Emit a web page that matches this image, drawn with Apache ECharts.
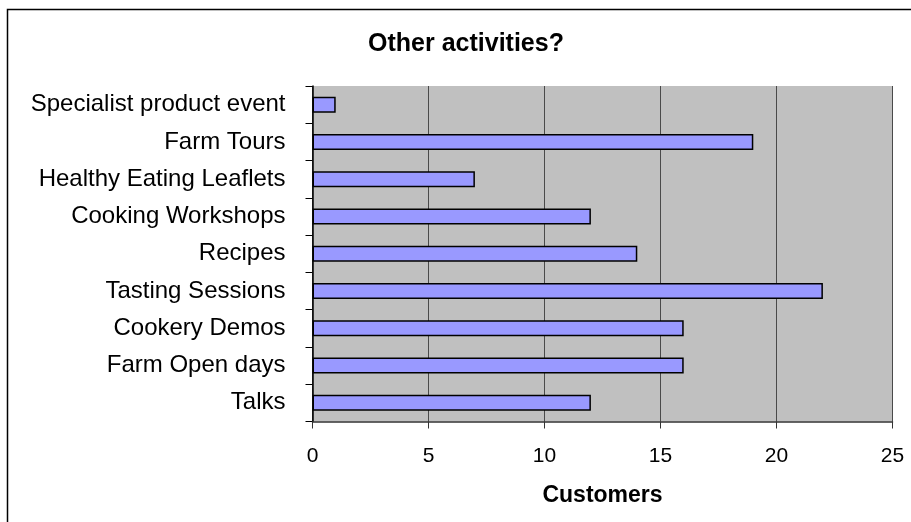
<!DOCTYPE html>
<html>
<head>
<meta charset="utf-8">
<script src="https://cdn.jsdelivr.net/npm/echarts@6/dist/echarts.min.js"></script>
<style>
  html, body { margin: 0; padding: 0; background: #ffffff; }
  #chart { width: 911px; height: 522px; }
</style>
</head>
<body>
<div id="chart"></div>
<script>
// Activities, listed top to bottom
var activities = [
  'Specialist product event',
  'Farm Tours',
  'Healthy Eating Leaflets',
  'Cooking Workshops',
  'Recipes',
  'Tasting Sessions',
  'Cookery Demos',
  'Farm Open days',
  'Talks'
];
var customers = [1, 19, 7, 12, 14, 22, 16, 16, 12];
var xTicks = [0, 5, 10, 15, 20, 25];

var chart = echarts.init(document.getElementById('chart'), null, { renderer: 'canvas' });
var font = 'Liberation Sans, Arial, sans-serif';

chart.setOption({
  animation: false,
  backgroundColor: '#ffffff',
  title: {
    text: 'Other activities?',
    left: 461,
    top: 27,
    textAlign: 'center',
    textStyle: { fontFamily: font, fontSize: 25, fontWeight: 'bold', color: '#000' }
  },
  graphic: [{
    type: 'rect',
    shape: { x: 7.5, y: 9.5, width: 920, height: 530 },
    style: { fill: null, stroke: '#000', lineWidth: 1.5 },
    silent: true,
    z: -1
  }],
  grid: {
    left: 312.5,
    top: 86,
    right: 18.5,
    bottom: 100.5,
    show: true,
    backgroundColor: '#c0c0c0',
    borderWidth: 0
  },
  xAxis: {
    type: 'value',
    min: xTicks[0],
    max: xTicks[xTicks.length - 1],
    interval: 5,
    name: 'Customers',
    nameLocation: 'middle',
    nameGap: 63,
    nameTextStyle: { fontFamily: font, fontSize: 23, fontWeight: 'bold', color: '#000' },
    axisLine: { show: true, lineStyle: { color: '#333', width: 1.5 } },
    axisTick: { show: true, length: 7, lineStyle: { color: '#333' } },
    axisLabel: { fontFamily: font, fontSize: 21, color: '#000', margin: 24 },
    splitLine: { show: true, lineStyle: { color: '#4a4a4a', width: 1 } }
  },
  yAxis: {
    type: 'category',
    data: activities,
    inverse: true,
    axisLine: { show: true, lineStyle: { color: '#000', width: 1.5 } },
    axisTick: { show: true, length: 7, alignWithLabel: false, lineStyle: { color: '#000' } },
    axisLabel: { fontFamily: font, fontSize: 24, color: '#000', margin: 27 },
    splitLine: { show: false }
  },
  series: [{
    type: 'bar',
    data: customers,
    barWidth: 16,
    itemStyle: { color: '#9999ff', borderColor: '#000', borderWidth: 1.5 }
  }]
});
</script>
</body>
</html>
